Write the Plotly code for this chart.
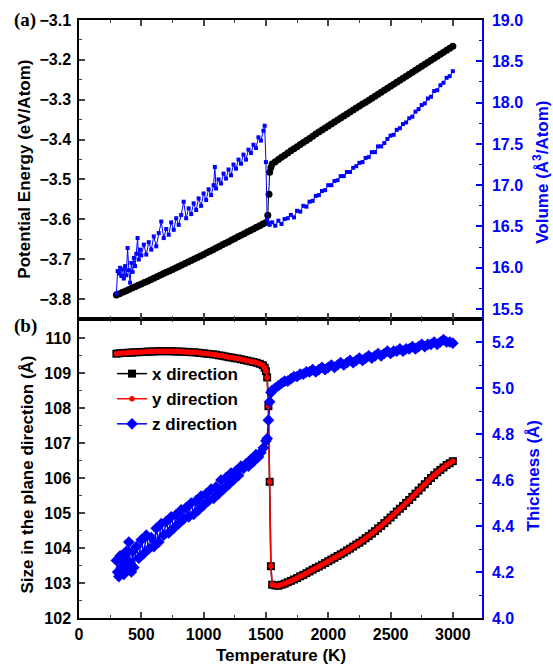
import plotly.graph_objects as go

# ---------------- (a) Potential energy (left) and volume (right) ----------------
T_energy = list(range(300, 1501, 25)) + [1515, 1525, 1530, 1540] + list(range(1550, 3001, 25))
energy = [-3.790, -3.7865, -3.783, -3.7795, -3.776, -3.7725, -3.769, -3.7655, -3.762, -3.7585,
          -3.755, -3.7515, -3.748, -3.744, -3.740, -3.7365, -3.733, -3.7295, -3.726, -3.722,
          -3.718, -3.7145, -3.711, -3.707, -3.703, -3.6995, -3.696, -3.692, -3.688, -3.684,
          -3.680, -3.676, -3.672, -3.668, -3.664, -3.660, -3.656, -3.652, -3.648, -3.644,
          -3.640, -3.636, -3.632, -3.628, -3.624, -3.620, -3.616, -3.612, -3.608,
          -3.590, -3.537, -3.482, -3.470,
          -3.461, -3.4555, -3.450, -3.4445, -3.439, -3.4335, -3.428, -3.423, -3.418, -3.4125,
          -3.407, -3.402, -3.397, -3.3915, -3.386, -3.381, -3.376, -3.371, -3.366,
          -3.361, -3.356, -3.351, -3.346, -3.341, -3.336, -3.331, -3.326, -3.321, -3.316,
          -3.311, -3.306, -3.301, -3.296, -3.291, -3.286, -3.281, -3.276, -3.271, -3.266,
          -3.261, -3.256, -3.251, -3.246, -3.241, -3.236, -3.231, -3.226, -3.221, -3.216,
          -3.211, -3.206, -3.201, -3.196, -3.191, -3.186, -3.181, -3.176, -3.171, -3.166]

T_volume = (list(range(300, 500, 10)) + list(range(500, 1081, 20)) + [1090]
            + list(range(1100, 1481, 20)) + [1490, 1500, 1510, 1520, 1530]
            + list(range(1550, 3001, 25)))
volume = [15.69, 15.96, 15.93, 16.00, 15.90, 15.98, 15.87, 16.02, 15.91, 16.24,
          15.97, 15.82, 16.06, 15.95, 16.12, 16.02, 16.17, 16.36, 16.10, 16.22,
          16.15, 16.28, 16.16, 16.31, 16.22, 16.38, 16.26, 16.42, 16.56, 16.36,
          16.47, 16.40, 16.55, 16.46, 16.60, 16.52, 16.64, 16.80, 16.60, 16.72,
          16.65, 16.78, 16.70, 16.84, 16.75, 16.90, 16.82, 16.95, 16.88, 17.00,
          17.22,
          16.96, 17.07, 17.02, 17.14, 17.08, 17.19, 17.12, 17.25, 17.20, 17.31,
          17.26, 17.37, 17.31, 17.43, 17.39, 17.49, 17.45, 17.58, 17.54, 17.66,
          17.72, 17.28, 16.58, 16.54, 16.52,
          16.55, 16.51, 16.57, 16.53, 16.59, 16.60, 16.64, 16.61, 16.69, 16.68,
          16.75, 16.74, 16.80, 16.81, 16.87, 16.88, 16.93, 16.94, 17.00, 17.00,
          17.05, 17.06, 17.11, 17.11, 17.16, 17.16, 17.21, 17.23, 17.27, 17.28,
          17.33, 17.34, 17.40, 17.40, 17.47, 17.47, 17.51, 17.56, 17.60, 17.61,
          17.67, 17.69, 17.74, 17.76, 17.81, 17.83, 17.89, 17.92, 17.97, 17.99,
          18.05, 18.07, 18.14, 18.15, 18.21, 18.24, 18.30, 18.32, 18.38]

# ---------------- (b) In-plane size (left) and thickness (right) ----------------
T_size = list(range(300, 1476, 25)) + [1490, 1500, 1510, 1520, 1530, 1540] + list(range(1550, 3001, 25))
size_xy = [109.55, 109.56, 109.57, 109.57, 109.58, 109.58, 109.59, 109.59, 109.60, 109.60,
           109.61, 109.61, 109.61, 109.62, 109.62, 109.62, 109.62, 109.62, 109.62, 109.61,
           109.61, 109.61, 109.60, 109.60, 109.59, 109.59, 109.58, 109.57, 109.56, 109.55,
           109.54, 109.53, 109.52, 109.50, 109.49, 109.47, 109.45, 109.44, 109.42, 109.41,
           109.39, 109.37, 109.35, 109.33, 109.31, 109.29, 109.26, 109.22,
           109.15, 109.05, 108.87, 108.05, 105.89, 103.48,
           102.95, 102.93, 102.92, 102.95, 102.98, 103.02, 103.06, 103.10, 103.14, 103.19,
           103.23, 103.28, 103.33, 103.38, 103.43, 103.47, 103.52, 103.57, 103.62, 103.67,
           103.72, 103.77, 103.82, 103.87, 103.93, 103.98, 104.04, 104.10, 104.15, 104.21,
           104.28, 104.34, 104.41, 104.48, 104.56, 104.63, 104.71, 104.79, 104.87, 104.95,
           105.04, 105.12, 105.20, 105.29, 105.37, 105.46, 105.55, 105.64, 105.73, 105.82,
           105.91, 106.00, 106.08, 106.16, 106.23, 106.30, 106.37, 106.42, 106.48]

T_thick = ([300, 310, 320, 330, 340, 350, 360, 370, 380, 390, 400, 410, 420, 430, 440]
           + list(range(460, 1501, 20)) + [1510, 1520, 1530, 1540] + list(range(1550, 3001, 25)))
thickness = [4.25, 4.20, 4.18, 4.27, 4.22, 4.26, 4.19, 4.24, 4.29, 4.21, 4.33, 4.24, 4.20, 4.29, 4.22,
             4.31, 4.26, 4.34, 4.28, 4.36, 4.30, 4.35, 4.31, 4.39, 4.33, 4.41, 4.36, 4.42, 4.37,
             4.44, 4.39, 4.45, 4.41, 4.47, 4.43, 4.48, 4.44, 4.50, 4.45, 4.51, 4.47, 4.53, 4.49,
             4.54, 4.51, 4.56, 4.52, 4.57, 4.54, 4.60, 4.56, 4.61, 4.58, 4.63, 4.60, 4.64, 4.62,
             4.66, 4.65, 4.67, 4.66, 4.69, 4.68, 4.71, 4.70, 4.72, 4.74, 4.77,
             4.78, 4.86, 4.94, 4.98,
             4.99, 5.00, 5.01, 5.02, 5.03, 5.03, 5.04, 5.05, 5.05, 5.06, 5.06, 5.07, 5.07, 5.08,
             5.07, 5.08, 5.09, 5.08, 5.09, 5.10, 5.09, 5.10, 5.11, 5.10, 5.11, 5.12, 5.11, 5.12,
             5.13, 5.12, 5.13, 5.14, 5.13, 5.14, 5.15, 5.14, 5.15, 5.16, 5.15, 5.16, 5.16, 5.17,
             5.16, 5.17, 5.17, 5.18, 5.17, 5.18, 5.19, 5.18, 5.19, 5.19, 5.20, 5.19, 5.20, 5.21,
             5.20, 5.20, 5.195]

legend_names = ["x direction", "y direction", "z direction"]
x_ticks = [0, 500, 1000, 1500, 2000, 2500, 3000]

FONT = "Liberation Sans, Arial, sans-serif"
BLUE = "#0000ff"

fig = go.Figure()

# top panel
fig.add_trace(go.Scatter(x=T_energy, y=energy, xaxis="x2", yaxis="y", mode="lines+markers",
                         line=dict(color="black", width=1),
                         marker=dict(symbol="circle", size=7, color="black"),
                         showlegend=False))
fig.add_trace(go.Scatter(x=T_volume, y=volume, xaxis="x2", yaxis="y2", mode="lines+markers",
                         line=dict(color=BLUE, width=1),
                         marker=dict(symbol="square", size=4, color=BLUE),
                         showlegend=False))

# bottom panel
fig.add_trace(go.Scatter(x=T_size, y=size_xy, xaxis="x", yaxis="y3", mode="lines+markers",
                         name=legend_names[0], line=dict(color="black", width=1.5),
                         marker=dict(symbol="square", size=8, color="black")))
fig.add_trace(go.Scatter(x=T_size, y=size_xy, xaxis="x", yaxis="y3", mode="lines+markers",
                         name=legend_names[1], line=dict(color="red", width=1.5),
                         marker=dict(symbol="circle", size=5.5, color="red")))
fig.add_trace(go.Scatter(x=T_thick, y=thickness, xaxis="x", yaxis="y4", mode="lines+markers",
                         name=legend_names[2], line=dict(color=BLUE, width=1.5),
                         marker=dict(symbol="diamond", size=9, color=BLUE)))

tickfont = dict(family=FONT, size=16, color="black", weight="bold")
bluefont = dict(family=FONT, size=16, color=BLUE, weight="bold")
common_x = dict(range=[0, 3234], tickvals=x_ticks, ticks="inside", ticklen=6, tickwidth=1.5,
                minor=dict(dtick=250, ticks="inside", ticklen=3, tickwidth=1.2),
                showline=True, linecolor="black", linewidth=1.5, mirror="ticks",
                showgrid=False, zeroline=False, tickfont=tickfont)

fig.update_layout(
    width=553, height=665,
    margin=dict(l=79, r=71, t=18, b=47),
    paper_bgcolor="white", plot_bgcolor="white",
    xaxis=dict(**common_x, domain=[0, 1], anchor="y3", ticklabelstandoff=1),
    xaxis2=dict(**common_x, domain=[0, 1], anchor="y", showticklabels=False, matches="x"),
    yaxis=dict(domain=[0.5, 1], anchor="x2", range=[-3.85, -3.1], dtick=0.1, tickformat=".1f",
               ticks="inside", ticklen=6, tickwidth=1.5,
               minor=dict(dtick=0.05, ticks="inside", ticklen=3, tickwidth=1.2),
               showline=True, linecolor="black", linewidth=1.5, showgrid=False, zeroline=False,
               tickfont=tickfont, ticklabelstandoff=3),
    yaxis2=dict(overlaying="y", side="right", anchor="x2", range=[15.38, 19.0], dtick=0.5,
                tickformat=".1f", ticks="inside", ticklen=6, tickwidth=1.5, tickcolor=BLUE,
                minor=dict(dtick=0.25, ticks="inside", ticklen=3, tickwidth=1.2, tickcolor=BLUE),
                showline=True, linecolor=BLUE, linewidth=1.5, showgrid=False, zeroline=False,
                tickfont=bluefont, ticklabelstandoff=5),
    yaxis3=dict(domain=[0, 0.5], anchor="x", range=[102, 110.54], dtick=1,
                ticks="inside", ticklen=6, tickwidth=1.5,
                minor=dict(dtick=0.5, ticks="inside", ticklen=3, tickwidth=1.2),
                showline=True, linecolor="black", linewidth=1.5, showgrid=False, zeroline=False,
                tickfont=tickfont, ticklabelstandoff=3),
    yaxis4=dict(overlaying="y3", side="right", anchor="x", range=[4.0, 5.3], dtick=0.2,
                tickformat=".1f", ticks="inside", ticklen=6, tickwidth=1.5, tickcolor=BLUE,
                minor=dict(dtick=0.1, ticks="inside", ticklen=3, tickwidth=1.2, tickcolor=BLUE),
                showline=True, linecolor=BLUE, linewidth=1.5, showgrid=False, zeroline=False,
                tickfont=bluefont, ticklabelstandoff=5),
    legend=dict(x=0.082, y=0.438, xanchor="left", yanchor="top", bgcolor="rgba(0,0,0,0)",
                font=dict(family=FONT, size=17, color="black", weight="bold"),
                tracegroupgap=0, itemwidth=30),
    showlegend=True,
)

title_font = dict(family=FONT, size=17, color="black", weight="bold")
title_blue = dict(family=FONT, size=17, color=BLUE, weight="bold")
serif = dict(family="Liberation Serif, Times New Roman, serif", size=19, color="black", weight="bold")
annots = [
    dict(text="Potential Energy (eV/Atom)", x=-0.136, y=0.75, textangle=-90, font=title_font),
    dict(text="Volume (Å<sup>3</sup>/Atom)", x=1.147, y=0.745, textangle=-90, font=title_blue),
    dict(text="Size in the plane direction (Å)", x=-0.129, y=0.24, textangle=-90, font=title_font),
    dict(text="Thickness (Å)", x=1.127, y=0.237, textangle=-90, font=title_blue),
    dict(text="Temperature (K)", x=0.5, y=-0.062, font=title_font),
    dict(text="(a)", x=-0.133, y=1.0, font=serif),
    dict(text="(b)", x=-0.133, y=0.488, font=serif),
]
for a in annots:
    fig.add_annotation(xref="paper", yref="paper", showarrow=False, xanchor="center",
                       yanchor="middle", **a)

fig.write_html("out.html")
